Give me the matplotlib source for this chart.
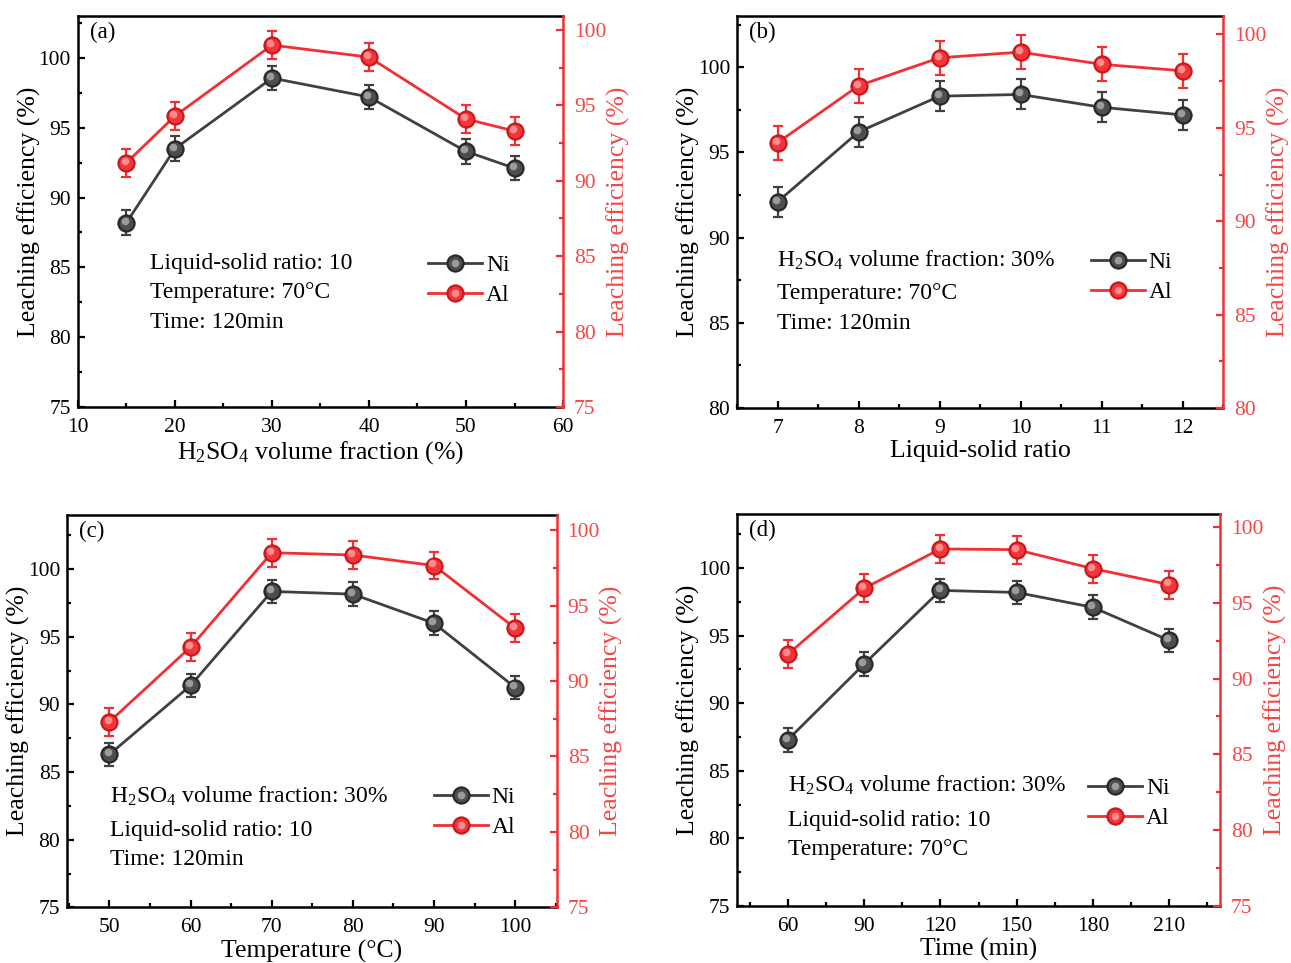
import numpy as np
import matplotlib
matplotlib.use("Agg")
import matplotlib.pyplot as plt
import matplotlib.transforms as mtransforms
from matplotlib.ticker import MultipleLocator
from matplotlib.legend_handler import HandlerTuple

plt.rcParams['font.family'] = ['Liberation Serif', 'DejaVu Serif']
plt.rcParams['mathtext.fontset'] = 'custom'
plt.rcParams['mathtext.rm'] = 'Liberation Serif'
plt.rcParams['mathtext.it'] = 'Liberation Serif:italic'

# (a) H2SO4 volume fraction
acid = [15, 20, 30, 40, 50, 55]
ni_acid = [88.2, 93.5, 98.55, 97.2, 93.3, 92.1]
al_acid = [91.2, 94.3, 99.0, 98.2, 94.1, 93.3]

# (b) liquid-solid ratio
ratio = [7, 8, 9, 10, 11, 12]
ni_ratio = [92.1, 96.2, 98.3, 98.4, 97.65, 97.2]
al_ratio = [94.2, 97.25, 98.75, 99.05, 98.4, 98.05]

# (c) temperature
temp = [50, 60, 70, 80, 90, 100]
ni_temp = [86.3, 91.4, 98.35, 98.15, 96.0, 91.25]
al_temp = [87.3, 92.25, 98.5, 98.35, 97.65, 93.5]

# (d) time
time_min = [60, 90, 120, 150, 180, 210]
ni_time = [87.3, 92.9, 98.35, 98.2, 97.1, 94.65]
al_time = [91.6, 95.95, 98.55, 98.5, 97.25, 96.2]

ni_err = 0.88
al_err = 0.92

NI = '#404040'
AL = '#f22f33'
AL_TXT = '#f24848'

fig = plt.figure(figsize=(12.91, 9.63), dpi=100)


def sphere(ax, x, y, color, edge, body, light, err):
    ax.errorbar(x, y, yerr=err, color=color, ecolor=color, elinewidth=1.6,
                capsize=3.3, capthick=1.6, lw=2.0, zorder=2)
    base, = ax.plot(x, y, 'o', ms=12.5, mfc=edge, mec=edge, mew=0.6, zorder=3)
    mid, = ax.plot(x, y, 'o', ms=10, mfc=body, mec='none', zorder=4)
    off = mtransforms.offset_copy(ax.transData, fig=fig, x=-1.3, y=1.5, units='points')
    hi, = ax.plot(x, y, 'o', ms=5.5, mfc=light, mec='none', alpha=0.6,
                  transform=off, zorder=5)
    return base, mid, hi


def panel(rect, x, ni, al, xlim, xmaj, xmin, ylim_l, ylim_r,
          letter, xlabel, notes, note_x, note_y, leg_pos):
    ax = fig.add_axes(rect)
    ax2 = ax.twinx()

    ni_h = sphere(ax, x, ni, NI, '#262626', '#4e4e4e', '#d0d0d0', ni_err)
    ln_ni, = ax.plot([], [], color=NI, lw=2.0)
    al_h = sphere(ax2, x, al, AL, '#c8161a', '#f23538', '#ffc8c8', al_err)
    ln_al, = ax2.plot([], [], color=AL, lw=2.0)

    ax.set_xlim(*xlim)
    ax.set_ylim(*ylim_l)
    ax2.set_ylim(*ylim_r)
    ax.xaxis.set_major_locator(MultipleLocator(xmaj))
    ax.xaxis.set_minor_locator(MultipleLocator(xmin))
    ax.yaxis.set_major_locator(MultipleLocator(5))
    ax.yaxis.set_minor_locator(MultipleLocator(2.5))
    ax2.yaxis.set_major_locator(MultipleLocator(5))
    ax2.yaxis.set_minor_locator(MultipleLocator(2.5))

    for sp in ax.spines.values():
        sp.set_linewidth(1.8)
    ax.spines['right'].set_visible(False)
    for name in ['left', 'top', 'bottom']:
        ax2.spines[name].set_visible(False)
    ax2.spines['right'].set_linewidth(1.8)
    ax2.spines['right'].set_color(AL)

    ax.tick_params(which='both', direction='in', top=False, right=False,
                   labelsize=15.5, width=1.6)
    ax.tick_params(axis='x', pad=8)
    ax.tick_params(axis='y', pad=5)
    ax.tick_params(which='major', length=5)
    ax.tick_params(which='minor', length=3)
    ax2.tick_params(which='both', direction='in', colors=AL, labelcolor=AL_TXT,
                    labelsize=15.5, width=1.6, pad=8)
    ax2.tick_params(which='major', length=5)
    ax2.tick_params(which='minor', length=3)

    ax.set_xlabel(xlabel, fontsize=18.5, labelpad=1.5)
    ax.set_ylabel('Leaching efficiency (%)', fontsize=18.5, labelpad=-1.5)
    ax2.set_ylabel('Leaching efficiency (%)', fontsize=18.5, color=AL_TXT, labelpad=0)

    ax.text(0.024, 0.958, letter, transform=ax.transAxes, fontsize=16.5,
            ha='left', va='center')
    for s, ny in zip(notes, note_y):
        ax2.text(note_x, ny, s, transform=ax.transAxes, fontsize=17,
                 ha='left', va='center')

    ax2.legend([(ln_ni,) + ni_h, (ln_al,) + al_h], ['Ni', 'Al'],
               handler_map={tuple: HandlerTuple(ndivide=1, pad=0)},
               loc='upper left', bbox_to_anchor=leg_pos, frameon=False,
               fontsize=17, handlelength=2.3, handletextpad=0.15,
               labelspacing=0.36, borderaxespad=0, borderpad=0)
    return ax, ax2


acid_label = r'H$_{\mathrm{2}}$SO$_{\mathrm{4}}$ volume fraction (%)'
acid_note = r'H$_{\mathrm{2}}$SO$_{\mathrm{4}}$ volume fraction: 30%'

panel([0.0604, 0.5774, 0.3757, 0.406], acid, ni_acid, al_acid,
      (10, 60), 10, 5, (75, 103), (75, 100.93),
      '(a)', acid_label,
      ['Liquid-solid ratio: 10', 'Temperature: 70\u00b0C', 'Time: 120min'],
      0.148, [0.368, 0.292, 0.217], (0.722, 0.39))

panel([0.5709, 0.5763, 0.3765, 0.407], ratio, ni_ratio, al_ratio,
      (6.5, 12.5), 1, 0.5, (80, 103), (80, 100.98),
      '(b)', 'Liquid-solid ratio',
      [acid_note, 'Temperature: 70\u00b0C', 'Time: 120min'],
      0.082, [0.378, 0.291, 0.216], (0.728, 0.400))

panel([0.0521, 0.0578, 0.379, 0.4074], temp, ni_temp, al_temp,
      (44.8, 105.1), 10, 5, (75, 104), (75, 101),
      '(c)', 'Temperature (\u00b0C)',
      [acid_note, 'Liquid-solid ratio: 10', 'Time: 120min'],
      0.087, [0.284, 0.197, 0.121], (0.749, 0.308))

panel([0.5709, 0.0592, 0.3741, 0.407], time_min, ni_time, al_time,
      (40, 230), 30, 15, (75, 104), (75, 100.85),
      '(d)', 'Time (min)',
      [acid_note, 'Liquid-solid ratio: 10', 'Temperature: 70\u00b0C'],
      0.105, [0.307, 0.219, 0.143], (0.727, 0.327))

fig.savefig('out.png', dpi=100)
